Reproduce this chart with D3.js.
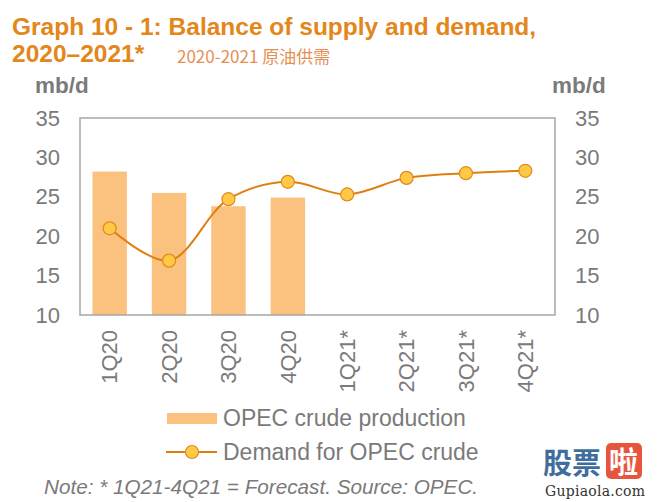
<!DOCTYPE html>
<html>
<head>
<meta charset="utf-8">
<script src="https://cdn.jsdelivr.net/npm/d3@7"></script>
<style>
body { margin: 0; background: #fff; }
svg { font-family: "Liberation Sans", Arial, sans-serif; }
</style>
</head>
<body>
<svg id="chart" width="658" height="502"></svg>
<script>
var quarters = ["1Q20", "2Q20", "3Q20", "4Q20", "1Q21*", "2Q21*", "3Q21*", "4Q21*"];
var production = [28.2, 25.5, 23.8, 24.9];
var demand = [21.0, 16.9, 24.7, 26.9, 25.3, 27.4, 28.0, 28.3];
var yTicks = [10, 15, 20, 25, 30, 35];

var svg = d3.select("#chart");
var pLeft = 80, pRight = 555, pTop = 118, pBottom = 315;
var orange = "#E3861B", grey = "#7a7a7a";

var x = d3.scaleBand().domain(quarters).range([pLeft, pRight]).paddingInner(0.42).paddingOuter(0.21);
var xc = function(d) { return x(d) + x.bandwidth() / 2; };
var y = d3.scaleLinear().domain([10, 35]).range([pBottom, pTop]);

// title
svg.append("text").attr("x", 12).attr("y", 35).attr("fill", orange)
	.attr("font-size", 24.5).attr("font-weight", "bold")
	.text("Graph 10 - 1: Balance of supply and demand,");
svg.append("text").attr("x", 12).attr("y", 62).attr("fill", orange)
	.attr("font-size", 24.5).attr("font-weight", "bold").text("2020\u20132021*");
svg.append("text").attr("x", 177).attr("y", 63).attr("fill", "#E68F55")
	.attr("font-size", 17).attr("font-family", "'Noto Sans CJK SC', sans-serif")
	.text("2020-2021 原油供需");

// units
svg.append("text").attr("x", 35).attr("y", 93).attr("fill", grey).attr("font-size", 22.5)
	.attr("font-weight", "bold").text("mb/d");
svg.append("text").attr("x", 552).attr("y", 93).attr("fill", grey).attr("font-size", 22.5)
	.attr("font-weight", "bold").text("mb/d");

// bars
svg.selectAll("rect.bar").data(production).enter().append("rect")
	.attr("class", "bar")
	.attr("x", function(d, i) { return x(quarters[i]); })
	.attr("width", x.bandwidth())
	.attr("y", function(d) { return y(d); })
	.attr("height", function(d) { return y(10) - y(d); })
	.attr("fill", "#FBC17E");

// frame
svg.append("rect").attr("x", pLeft).attr("y", pTop).attr("width", pRight - pLeft).attr("height", pBottom - pTop)
	.attr("fill", "none").attr("stroke", "#a6a6a6").attr("stroke-width", 1.5);

// y axes
var yl = svg.append("g").attr("transform", "translate(" + pLeft + ",0)")
	.call(d3.axisLeft(y).tickValues(yTicks).tickSize(0).tickPadding(20));
var yr = svg.append("g").attr("transform", "translate(" + pRight + ",0)")
	.call(d3.axisRight(y).tickValues(yTicks).tickSize(0).tickPadding(20));
[yl, yr].forEach(function(g) {
	g.select(".domain").remove();
	g.selectAll("text").attr("font-size", 22).attr("fill", grey)
		.attr("font-family", "'Liberation Sans', Arial, sans-serif");
});

// x axis labels
var xa = svg.append("g").attr("transform", "translate(0," + pBottom + ")")
	.call(d3.axisBottom(x).tickSize(0));
xa.select(".domain").remove();
xa.selectAll("text")
	.attr("font-size", 22).attr("fill", grey)
	.attr("font-family", "'Liberation Sans', Arial, sans-serif")
	.attr("transform", "rotate(-90)")
	.attr("text-anchor", "end")
	.attr("x", -15).attr("y", 0).attr("dy", "0.35em");

// demand line
var line = d3.line()
	.x(function(d, i) { return xc(quarters[i]); })
	.y(function(d) { return y(d); })
	.curve(d3.curveCatmullRom.alpha(0.5));
svg.append("path").datum(demand).attr("d", line)
	.attr("fill", "none").attr("stroke", "#E07E10").attr("stroke-width", 2);
svg.selectAll("circle.pt").data(demand).enter().append("circle")
	.attr("class", "pt")
	.attr("cx", function(d, i) { return xc(quarters[i]); })
	.attr("cy", function(d) { return y(d); })
	.attr("r", 6.5)
	.attr("fill", "#FFC845").attr("stroke", "#E08A1E").attr("stroke-width", 1.2);

// legend
svg.append("rect").attr("x", 167).attr("y", 413).attr("width", 50).attr("height", 11).attr("fill", "#FBC17E");
svg.append("text").attr("x", 223).attr("y", 426).attr("font-size", 23).attr("fill", grey)
	.text("OPEC crude production");
svg.append("line").attr("x1", 166).attr("x2", 217).attr("y1", 452).attr("y2", 452)
	.attr("stroke", "#E07E10").attr("stroke-width", 2);
svg.append("circle").attr("cx", 192).attr("cy", 452).attr("r", 6.5)
	.attr("fill", "#FFC845").attr("stroke", "#E08A1E").attr("stroke-width", 1.2);
svg.append("text").attr("x", 223).attr("y", 460).attr("font-size", 23).attr("fill", grey)
	.text("Demand for OPEC crude");

// note
svg.append("text").attr("x", 44).attr("y", 494).attr("font-size", 20.7).attr("fill", grey)
	.attr("font-style", "italic").text("Note: * 1Q21-4Q21 = Forecast. Source: OPEC.");

// watermark
svg.append("text").attr("x", 543).attr("y", 474).attr("font-size", 29).attr("font-weight", "bold")
	.attr("fill", "#3f6e9e").attr("font-family", "'Noto Sans CJK SC', sans-serif").text("股票");
svg.append("rect").attr("x", 606).attr("y", 443).attr("width", 36).attr("height", 36).attr("rx", 5)
	.attr("fill", "#e8553f");
svg.append("text").attr("x", 609).attr("y", 473).attr("font-size", 29).attr("font-weight", "bold")
	.attr("fill", "#fff").attr("font-family", "'Noto Sans CJK SC', sans-serif").text("啦");
svg.append("text").attr("x", 545).attr("y", 496).attr("font-size", 14).attr("fill", "#333")
	.attr("font-family", "'DejaVu Serif', serif").attr("textLength", 100).text("Gupiaola.com");
</script>
</body>
</html>
